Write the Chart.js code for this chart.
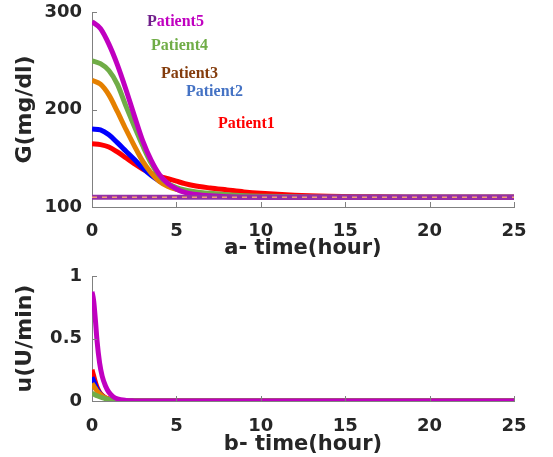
<!DOCTYPE html>
<html>
<head>
<meta charset="utf-8">
<script src="https://cdn.jsdelivr.net/npm/chart.js@4/dist/chart.umd.min.js"></script>
<style>
  body { margin: 0; background: #fff; }
  #wrap { position: relative; width: 553px; height: 457px; }
  canvas { position: absolute; left: 0; }
</style>
</head>
<body>
<div id="wrap">
  <canvas id="glucose" width="553" height="261" style="top:0"></canvas>
  <canvas id="insulin" width="553" height="196" style="top:261px"></canvas>
</div>
<script>
// glucose, mg/dl
var gTime = [0, 0.5, 1, 1.5, 2, 2.5, 3, 3.5, 4, 4.5, 5, 5.5, 6, 7, 8, 9, 10, 12, 14, 17, 20, 25];
var gP1 = [165, 164, 161.5, 156.5, 150.5, 144.5, 139, 134.6, 131.5, 129, 126.5, 124, 122, 119.5, 117.5, 115.5, 114, 112, 111, 110.5, 110, 110];
var gP2 = [180, 179, 174, 166, 157.5, 149, 140, 132.5, 126.5, 122, 118.5, 116.5, 115, 113, 112, 111, 110.5, 110, 110, 110, 110, 110];
var gP3 = [230, 226, 215, 198, 180, 163, 147, 135, 126, 121, 118, 116, 115, 113.5, 112, 111, 110.5, 110, 110, 110, 110, 110];
var gP4 = [250, 247, 240, 226, 204, 183, 163, 145, 132, 124, 120, 117.5, 116, 114, 112.5, 111.5, 111, 110.5, 110, 110, 110, 110];
var gP5 = [290, 283, 267, 246, 221, 194, 168, 148, 133, 124, 118.5, 115, 113, 111.5, 110.5, 110, 110, 110, 110, 110, 110, 110];
var gTarget = 110;

// insulin, U/min
var uTime = [0, 0.1, 0.2, 0.3, 0.45, 0.6, 0.8, 1, 1.25, 1.5, 2, 2.5, 3, 5, 10, 15, 20, 25];
var uP1 = [0.25, 0.20, 0.15, 0.11, 0.07, 0.045, 0.025, 0.014, 0.007, 0.003, 0, 0, 0, 0, 0, 0, 0, 0];
var uP2 = [0.19, 0.16, 0.125, 0.095, 0.062, 0.04, 0.022, 0.012, 0.006, 0.002, 0, 0, 0, 0, 0, 0, 0, 0];
var uP3 = [0.14, 0.12, 0.10, 0.08, 0.057, 0.04, 0.025, 0.015, 0.008, 0.004, 0.001, 0, 0, 0, 0, 0, 0, 0];
var uP4 = [0.06, 0.055, 0.048, 0.042, 0.034, 0.027, 0.019, 0.013, 0.008, 0.005, 0.002, 0, 0, 0, 0, 0, 0, 0];
var uP5 = [0.875, 0.80, 0.65, 0.48, 0.305, 0.20, 0.12, 0.07, 0.035, 0.018, 0.005, 0.001, 0, 0, 0, 0, 0, 0];

var patients = ['Patient1', 'Patient2', 'Patient3', 'Patient4', 'Patient5'];
var xTicks = [0, 5, 10, 15, 20, 25];

var lineColors = ['#ff0000', '#0000ff', '#e58000', '#70ad47', '#c000c0'];
var textColors = ['#ff0000', '#4472c4', '#843c0c', '#70ad47', '#c000c0'];

function pts(xs, ys) {
  return xs.map(function (x, i) { return { x: x, y: ys[i] }; });
}

function curve(label, xs, ys, i, w) {
  return {
    label: label,
    data: pts(xs, ys),
    borderColor: lineColors[i],
    borderWidth: w,
    pointRadius: 0,
    cubicInterpolationMode: 'monotone',
    fill: false,
    order: 10 - i
  };
}

// matlab style ticks pointing into the plot
var innerTicks = {
  id: 'innerTicks',
  afterDraw: function (chart) {
    var ctx = chart.ctx, a = chart.chartArea;
    ctx.save();
    ctx.strokeStyle = '#808080';
    ctx.lineWidth = 1;
    var xs = chart.scales.x, ys = chart.scales.y;
    xs.ticks.forEach(function (t) {
      var px = Math.round(xs.getPixelForValue(t.value)) + 0.5;
      ctx.beginPath(); ctx.moveTo(px, a.bottom); ctx.lineTo(px, a.bottom - 5); ctx.stroke();
    });
    ys.ticks.forEach(function (t) {
      var py = Math.round(ys.getPixelForValue(t.value)) + 0.5;
      ctx.beginPath(); ctx.moveTo(a.left, py); ctx.lineTo(a.left + 5, py); ctx.stroke();
    });
    ctx.restore();
  }
};

// patient names written beside the curves
var nameTags = {
  id: 'nameTags',
  afterDatasetsDraw: function (chart, args, opts) {
    var ctx = chart.ctx;
    ctx.save();
    ctx.font = 'bold 16px "Liberation Serif", "Times New Roman", serif';
    ctx.textBaseline = 'middle';
    ctx.textAlign = 'left';
    opts.spots.forEach(function (s, i) {
      var px = chart.scales.x.getPixelForValue(s[0]);
      var py = chart.scales.y.getPixelForValue(s[1]);
      var txt = patients[i];
      if (i === 4) {
        ctx.fillStyle = '#70208a';
        ctx.fillText(txt[0], px, py);
        ctx.fillStyle = textColors[i];
        ctx.fillText(txt.slice(1), px + ctx.measureText(txt[0]).width, py);
      } else {
        ctx.fillStyle = textColors[i];
        ctx.fillText(txt, px, py);
      }
    });
    ctx.restore();
  }
};

var tickFont = { family: '"DejaVu Sans", sans-serif', size: 18, weight: 'bold' };
var titleFont = { family: '"DejaVu Sans", sans-serif', size: 21, weight: 'bold' };

function axes(yMin, yMax, yStep, yTitle, xTitle, xH, xPad, yFmt) {
  return {
    x: {
      type: 'linear', min: 0, max: 25,
      afterBuildTicks: function (s) { s.ticks = xTicks.map(function (v) { return { value: v }; }); },
      afterFit: function (s) { s.height = xH; },
      grid: { display: false, drawTicks: false },
      border: { display: true, color: '#808080', width: 1 },
      ticks: { font: tickFont, color: '#262626', padding: xPad, maxRotation: 0 },
      title: { display: true, text: xTitle, font: titleFont, color: '#262626', padding: { top: 0, bottom: 0 } }
    },
    y: {
      type: 'linear', min: yMin, max: yMax,
      ticks: { stepSize: yStep, font: tickFont, color: '#262626', padding: 10, callback: yFmt },
      afterFit: function (s) { s.width = 92; s.paddingTop = 0; s.paddingBottom = 0; },
      grid: { display: false, drawTicks: false },
      border: { display: true, color: '#808080', width: 1 },
      title: { display: true, text: yTitle, font: { family: '"DejaVu Sans", sans-serif', size: 22, weight: 'bold' }, color: '#262626', padding: { top: 12, bottom: 0 } }
    }
  };
}

var gSets = [gP1, gP2, gP3, gP4, gP5].map(function (d, i) { return curve(patients[i], gTime, d, i, 5); });
gSets.push({
  label: 'target', data: pts([0, 25], [gTarget, gTarget]),
  borderColor: '#9430a8', borderWidth: 5, pointRadius: 0, order: 0
});
gSets.push({
  label: 'target dash', data: pts([0, 25], [gTarget, gTarget]),
  borderColor: '#f5a070', borderWidth: 1.5, borderDash: [5, 5], pointRadius: 0, order: -1
});

new Chart(document.getElementById('glucose'), {
  type: 'line',
  data: { datasets: gSets },
  options: {
    responsive: false, animation: false,
    layout: { padding: { left: 0, right: 39, top: 12, bottom: 0 } },
    plugins: {
      legend: { display: false }, tooltip: { enabled: false },
      nameTags: { spots: [[7.46, 185], [5.57, 218], [4.09, 236.5], [3.5, 265], [3.26, 289.5]] }
    },
    scales: axes(100, 300, 100, 'G(mg/dl)', 'a- time(hour)', 54, 14)
  },
  plugins: [innerTicks, nameTags]
});

var uSets = [uP1, uP2, uP3, uP4, uP5].map(function (d, i) { return curve(patients[i], uTime, d, i, 5); });

new Chart(document.getElementById('insulin'), {
  type: 'line',
  data: { datasets: uSets },
  options: {
    responsive: false, animation: false,
    layout: { padding: { left: 0, right: 39, top: 15, bottom: 0 } },
    plugins: { legend: { display: false }, tooltip: { enabled: false } },
    scales: axes(0, 1, 0.5, 'u(U/min)', 'b- time(hour)', 56, 15, function (v) { return String(v); })
  },
  plugins: [innerTicks]
});
</script>
</body>
</html>
